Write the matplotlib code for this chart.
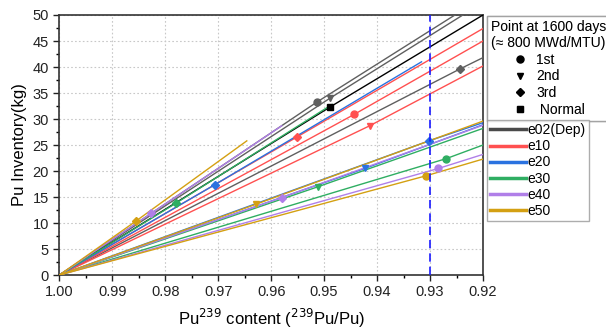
import matplotlib
matplotlib.use("Agg")
import matplotlib.pyplot as plt
from matplotlib.lines import Line2D
from matplotlib.ticker import MultipleLocator, FormatStrFormatter

# ---- data (x = Pu239 fraction, y = Pu inventory kg) ----
series_names = [
    "e02_1st", "e02_2nd", "e02_3rd", "e02_normal",
    "e10_3rd", "e10_1st", "e10_2nd",
    "e20_3rd", "e20_2nd", "e20_1st",
    "e30_3rd", "e30_2nd", "e30_1st",
    "e40_3rd", "e40_2nd", "e40_1st",
    "e50_3rd", "e50_2nd", "e50_1st",
]
series_x = [
    [1.00, 0.9513, 0.9253], [1.00, 0.9489, 0.9238], [1.00, 0.9244, 0.9200], [1.00, 0.9489, 0.9200],
    [1.00, 0.9552, 0.9200], [1.00, 0.9443, 0.9200], [1.00, 0.9414, 0.9200],
    [1.00, 0.9706, 0.9316], [1.00, 0.9423, 0.9200], [1.00, 0.9302, 0.9200],
    [1.00, 0.9780, 0.9485], [1.00, 0.9511, 0.9200], [1.00, 0.9269, 0.9200],
    [1.00, 0.9826, 0.9580], [1.00, 0.9580, 0.9200], [1.00, 0.9284, 0.9200],
    [1.00, 0.9855, 0.9646], [1.00, 0.9629, 0.9200], [1.00, 0.9307, 0.9200],
]
series_y = [
    [0, 33.3, 50.0], [0, 34.0, 50.0], [0, 39.6, 41.8], [0, 32.3, 50.0],
    [0, 26.5, 47.4], [0, 30.9, 45.0], [0, 28.7, 40.2],
    [0, 17.4, 41.0], [0, 20.5, 28.9], [0, 25.8, 29.3],
    [0, 13.8, 32.8], [0, 17.0, 28.2], [0, 22.4, 25.0],
    [0, 11.9, 28.7], [0, 14.9, 28.8], [0, 20.5, 23.2],
    [0, 10.4, 25.8], [0, 13.6, 29.6], [0, 19.1, 22.3],
]
series_marker = [
    "o", "v", "D", "s",
    "D", "o", "v",
    "D", "v", "D",
    "D", "v", "o",
    "D", "D", "o",
    "D", "v", "o",
]
series_color_key = [
    "e02", "e02", "e02", "normal",
    "e10", "e10", "e10",
    "e20", "e20", "e20",
    "e30", "e30", "e30",
    "e40", "e40", "e40",
    "e50", "e50", "e50",
]
legend_labels = ["e02(Dep)", "e10", "e20", "e30", "e40", "e50"]
point_labels = ["1st", "2nd", "3rd", " Normal"]
point_markers = ["o", "v", "D", "s"]
x_ticks = [1.00, 0.99, 0.98, 0.97, 0.96, 0.95, 0.94, 0.93, 0.92]
y_ticks = [0, 5, 10, 15, 20, 25, 30, 35, 40, 45, 50]
ref_line_x = 0.93

colors = {
    "e02": "#5f5f5f",
    "normal": "#000000",
    "e10": "#ff5050",
    "e20": "#2a72e0",
    "e30": "#2fae62",
    "e40": "#b07fe8",
    "e50": "#d4a012",
}
legend_colors = ["#4a4a4a", colors["e10"], colors["e20"], colors["e30"], colors["e40"], colors["e50"]]

plt.rcParams["font.family"] = ["Arial", "Liberation Sans", "DejaVu Sans"]

fig = plt.figure(figsize=(6.06, 3.31), dpi=100)
ax = fig.add_axes([0.0979, 0.169, 0.6991, 0.7857])

for xs, ys, mk, ck in zip(series_x, series_y, series_marker, series_color_key):
    c = colors[ck]
    ax.plot(xs, ys, color=c, lw=1.0, zorder=3)
    ax.plot([xs[1]], [ys[1]], marker=mk, color=c, ms=5 if mk != "D" else 4.2,
            ls="none", zorder=4)

ax.axvline(ref_line_x, color="#1a1aff", lw=1.2, ls=(0, (5, 3)), zorder=5)

ax.set_xlim(1.00, 0.92)
ax.set_ylim(0, 50)
ax.set_xticks(x_ticks)
ax.set_yticks(y_ticks)
ax.xaxis.set_minor_locator(MultipleLocator(0.005))
ax.yaxis.set_minor_locator(MultipleLocator(2.5))
ax.xaxis.set_major_formatter(FormatStrFormatter("%.2f"))
ax.tick_params(axis="both", which="major", direction="out", length=4, width=1,
               labelsize=10.5, colors="#222222", top=False, right=False)
ax.tick_params(axis="both", which="minor", direction="out", length=2.5, width=1,
               top=False, right=False)
ax.grid(True, which="major", color="#c8c8c8", ls=(0, (1.5, 2)), lw=0.8, zorder=0)
for sp in ax.spines.values():
    sp.set_linewidth(1.2)
    sp.set_color("#333333")

ax.set_ylabel("Pu Inventory(kg)", fontsize=12, labelpad=4)
ax.set_xlabel("Pu$^{239}$ content ($^{239}$Pu/Pu)", fontsize=12, labelpad=5)

# legend 1: marker meanings
h1 = [Line2D([], [], ls="none", marker=m, color="black", ms=5 if m != "D" else 4.2)
      for m in point_markers]
leg1 = fig.legend(h1, point_labels, loc="upper left", bbox_to_anchor=(0.803, 0.953),
                  title="Point at 1600 days\n(\u2248 800 MWd/MTU)", fontsize=10,
                  title_fontsize=10, frameon=True, fancybox=False, edgecolor="#999999",
                  handlelength=1.2, handletextpad=0.6, labelspacing=0.2,
                  borderpad=0.3, borderaxespad=0)
leg1.get_frame().set_linewidth(1.0)
fig.add_artist(leg1)

# legend 2: series colours
h2 = [Line2D([], [], color=c, lw=2.5) for c in legend_colors]
leg2 = fig.legend(h2, legend_labels, loc="upper left", bbox_to_anchor=(0.803, 0.638),
                  fontsize=10, frameon=True, fancybox=False, edgecolor="#999999",
                  handlelength=2.6, handletextpad=0.1, labelspacing=0.15,
                  borderpad=0.25, borderaxespad=0)
leg2.get_frame().set_linewidth(1.0)

fig.savefig("out.png", dpi=100)
